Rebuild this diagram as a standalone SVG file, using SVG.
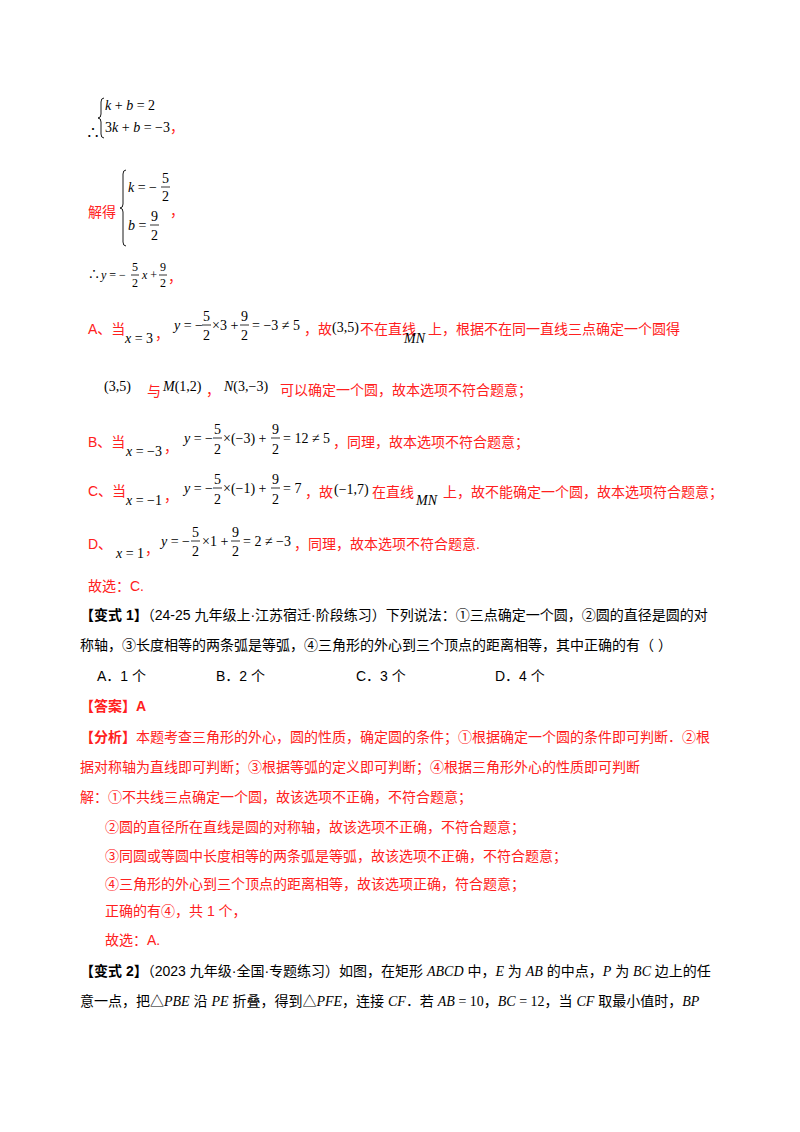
<svg xmlns="http://www.w3.org/2000/svg" width="800" height="1132" viewBox="0 0 800 1132">
<style>
text{font-family:"Liberation Sans","Noto Sans CJK SC",sans-serif;font-size:14px;fill:#000}
.r{fill:#ff2020}
.m{font-family:"Liberation Serif","Noto Sans CJK SC",serif;font-size:14px}
.i{font-style:italic}
.s{font-size:12px}
.b{font-weight:bold}
line{stroke:#000;stroke-width:0.8}
path{fill:none;stroke:#000;stroke-width:0.9}
</style>
<rect width="800" height="1132" fill="#fff"/>
<!-- system 1 -->
<text x="86" y="137" class="m">∴</text>
<path d="M104,98 q-3,0 -3,4 v12 q0,4 -3,4 q3,0 3,4 v12 q0,4 3,4"/>
<text x="105" y="110" class="m"><tspan class="i">k</tspan> + <tspan class="i">b</tspan> = 2</text>
<text x="105" y="132" class="m">3<tspan class="i">k</tspan> + <tspan class="i">b</tspan> = −3<tspan class="r">，</tspan></text>
<!-- solve -->
<text x="88" y="217" class="r">解得</text>
<path d="M126,170 q-3,0 -3,4 v30 q0,4 -3,4 q3,0 3,4 v30 q0,4 3,4"/>
<text x="128" y="192" class="m"><tspan class="i">k</tspan> = −</text>
<text x="162" y="183" class="m">5</text><line x1="161" y1="187" x2="170" y2="187"/><text x="162" y="201" class="m">2</text>
<text x="128" y="230" class="m"><tspan class="i">b</tspan> =</text>
<text x="151" y="221" class="m">9</text><line x1="150" y1="225" x2="159" y2="225"/><text x="151" y="240" class="m">2</text>
<text x="170" y="216" class="r">，</text>
<!-- y= -->
<text x="88" y="279" class="m s">∴</text>
<text x="101" y="279" class="m s"><tspan class="i">y</tspan> = −</text>
<text x="132" y="271" class="m s">5</text><line x1="131" y1="275" x2="139" y2="275"/><text x="132" y="287" class="m s">2</text>
<text x="142" y="279" class="m s"><tspan class="i">x</tspan> +</text>
<text x="160" y="271" class="m s">9</text><line x1="159" y1="275" x2="167" y2="275"/><text x="160" y="287" class="m s">2</text>
<text x="168" y="282" class="r">，</text>
<!-- A -->
<text x="88" y="334" class="r">A、当</text>
<text x="125" y="343" class="m"><tspan class="i">x</tspan> = 3</text>
<text x="155" y="339" class="r">，</text>
<text x="174" y="330" class="m"><tspan class="i">y</tspan> = −</text>
<text x="203" y="321" class="m">5</text><line x1="202" y1="325" x2="211" y2="325"/><text x="203" y="340" class="m">2</text>
<text x="212" y="330" class="m">×3 +</text>
<text x="241" y="321" class="m">9</text><line x1="240" y1="325" x2="249" y2="325"/><text x="241" y="340" class="m">2</text>
<text x="252" y="330" class="m">= −3 ≠ 5</text>
<text x="304" y="334" class="r">，故</text>
<text x="332" y="332" class="m">(3,5)</text>
<text x="360" y="334" class="r">不在直线</text>
<text x="404" y="343" class="m i">MN</text>
<text x="428" y="334" class="r">上，根据不在同一直线三点确定一个圆得</text>
<!-- line 2 -->
<text x="104" y="391" class="m">(3,5)</text>
<text x="147" y="396" class="r">与</text>
<text x="163" y="391" class="m"><tspan class="i">M</tspan>(1,2)</text>
<text x="206" y="395" class="r">，</text>
<text x="224" y="391" class="m"><tspan class="i">N</tspan>(3,−3)</text>
<text x="280" y="395" class="r">可以确定一个圆，故本选项不符合题意；</text>
<!-- B -->
<text x="88" y="447" class="r">B、当</text>
<text x="126" y="456" class="m"><tspan class="i">x</tspan> = −3</text>
<text x="164" y="452" class="r">，</text>
<text x="184" y="443" class="m"><tspan class="i">y</tspan> = −</text>
<text x="214" y="434" class="m">5</text><line x1="213" y1="438" x2="222" y2="438"/><text x="214" y="454" class="m">2</text>
<text x="223" y="443" class="m">×(−3) +</text>
<text x="272" y="434" class="m">9</text><line x1="271" y1="438" x2="280" y2="438"/><text x="272" y="454" class="m">2</text>
<text x="283" y="443" class="m">= 12 ≠ 5</text>
<text x="333" y="447" class="r">，同理，故本选项不符合题意；</text>
<!-- C -->
<text x="88" y="496" class="r">C、当</text>
<text x="126" y="505" class="m"><tspan class="i">x</tspan> = −1</text>
<text x="164" y="501" class="r">，</text>
<text x="184" y="493" class="m"><tspan class="i">y</tspan> = −</text>
<text x="214" y="484" class="m">5</text><line x1="213" y1="488" x2="222" y2="488"/><text x="214" y="504" class="m">2</text>
<text x="223" y="493" class="m">×(−1) +</text>
<text x="272" y="484" class="m">9</text><line x1="271" y1="488" x2="280" y2="488"/><text x="272" y="504" class="m">2</text>
<text x="283" y="493" class="m">= 7</text>
<text x="305" y="497" class="r">，故</text>
<text x="334" y="494" class="m">(−1,7)</text>
<text x="372" y="497" class="r">在直线</text>
<text x="416" y="505" class="m i">MN</text>
<text x="443" y="497" class="r">上，故不能确定一个圆，故本选项符合题意；</text>
<!-- D -->
<text x="88" y="549" class="r">D、</text>
<text x="116" y="558" class="m"><tspan class="i">x</tspan> = 1</text>
<text x="145" y="554" class="r">，</text>
<text x="161" y="546" class="m"><tspan class="i">y</tspan> = −</text>
<text x="192" y="537" class="m">5</text><line x1="191" y1="541" x2="200" y2="541"/><text x="192" y="556" class="m">2</text>
<text x="202" y="546" class="m">×1 +</text>
<text x="232" y="537" class="m">9</text><line x1="231" y1="541" x2="240" y2="541"/><text x="232" y="556" class="m">2</text>
<text x="243" y="546" class="m">= 2 ≠ −3</text>
<text x="294" y="549" class="r">，同理，故本选项不符合题意.</text>
<text x="88" y="591" class="r">故选：C.</text>
<!-- 变式1 -->
<text x="80" y="620"><tspan class="b">【变式 1】</tspan>（24-25 九年级上·江苏宿迁·阶段练习）下列说法：①三点确定一个圆，②圆的直径是圆的对</text>
<text x="80" y="650">称轴，③长度相等的两条弧是等弧，④三角形的外心到三个顶点的距离相等，其中正确的有（    ）</text>
<text x="97" y="681">A．1 个</text>
<text x="216" y="681">B．2 个</text>
<text x="356" y="681">C．3 个</text>
<text x="495" y="681">D．4 个</text>
<text x="80" y="711" class="r b">【答案】A</text>
<text x="80" y="742" class="r"><tspan class="b">【分析】</tspan>本题考查三角形的外心，圆的性质，确定圆的条件；①根据确定一个圆的条件即可判断．②根</text>
<text x="80" y="772" class="r">据对称轴为直线即可判断；③根据等弧的定义即可判断；④根据三角形外心的性质即可判断</text>
<text x="80" y="802" class="r">解：①不共线三点确定一个圆，故该选项不正确，不符合题意；</text>
<text x="105" y="832" class="r">②圆的直径所在直线是圆的对称轴，故该选项不正确，不符合题意；</text>
<text x="105" y="861" class="r">③同圆或等圆中长度相等的两条弧是等弧，故该选项不正确，不符合题意；</text>
<text x="105" y="889" class="r">④三角形的外心到三个顶点的距离相等，故该选项正确，符合题意；</text>
<text x="105" y="916" class="r">正确的有④，共 1 个，</text>
<text x="105" y="945" class="r">故选：A.</text>
<!-- 变式2 -->
<text x="80" y="976"><tspan class="b">【变式 2】</tspan>（2023 九年级·全国·专题练习）如图，在矩形 <tspan class="m i">ABCD</tspan> 中，<tspan class="m i">E</tspan> 为 <tspan class="m i">AB</tspan> 的中点，<tspan class="m i">P</tspan> 为 <tspan class="m i">BC</tspan> 边上的任</text>
<text x="80" y="1006">意一点，把△<tspan class="m i">PBE</tspan> 沿 <tspan class="m i">PE</tspan> 折叠，得到△<tspan class="m i">PFE</tspan>，连接 <tspan class="m i">CF</tspan>．若 <tspan class="m i">AB</tspan><tspan class="m"> = 10</tspan>，<tspan class="m i">BC</tspan><tspan class="m"> = 12</tspan>，当 <tspan class="m i">CF</tspan> 取最小值时，<tspan class="m i">BP</tspan></text>
</svg>
